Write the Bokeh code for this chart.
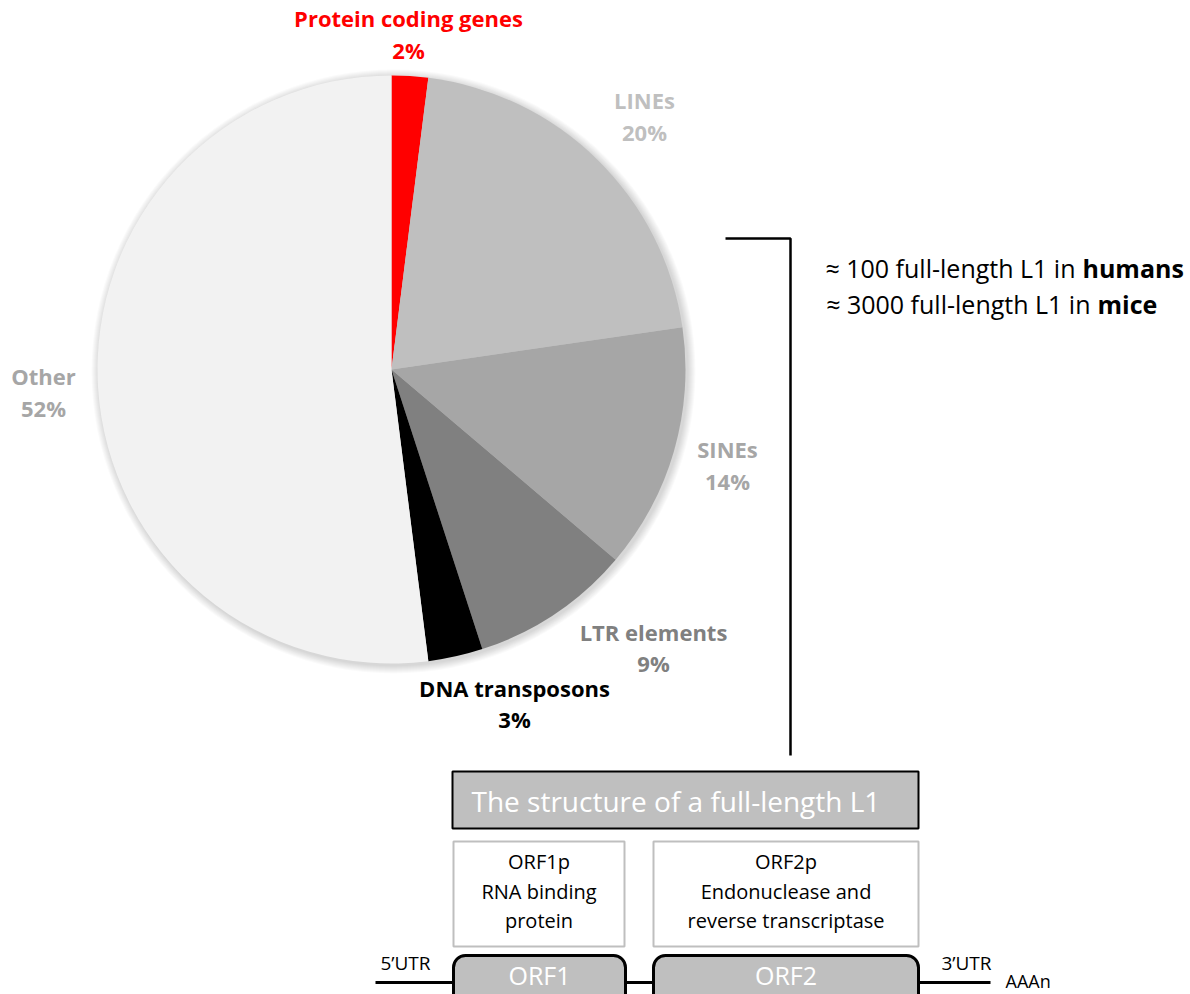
import numpy as np
from bokeh.plotting import figure
from bokeh.models import Range1d, ColumnDataSource
from bokeh.core.properties import value
from bokeh.embed import file_html
from bokeh.resources import INLINE

# ---------------- data ----------------
categories = ["Protein coding genes", "LINEs", "SINEs", "LTR elements", "DNA transposons", "Other"]
shares = [2.0, 20.7, 13.5, 8.8, 3.0, 52.0]
pct_labels = ["2%", "20%", "14%", "9%", "3%", "52%"]
slice_colors = ["#ff0000", "#bfbfbf", "#a6a6a6", "#808080", "#000000", "#f2f2f2"]
label_colors = ["#ff0000", "#bfbfbf", "#a6a6a6", "#808080", "#000000", "#a6a6a6"]

counts_lines = ["\u2248 100 full-length L1 in", "\u2248 3000 full-length L1 in"]
counts_bold = ["humans", "mice"]
structure_title = "The structure of a full-length L1"
orf_names = ["ORF1", "ORF2"]
orf_protein_text = [["ORF1p", "RNA binding", "protein"],
                    ["ORF2p", "Endonuclease and", "reverse transcriptase"]]

# ---------------- layout (page pixel coords -> data with y up) ----------------
W, H = 1190, 994
def Y(py):
    return H - py

FONT = value("Open Sans")

p = figure(width=W, height=H, x_range=Range1d(0, W), y_range=Range1d(0, H),
           output_backend="svg", toolbar_location=None, min_border=0)
p.axis.visible = False
p.grid.visible = False
p.outline_line_color = None
p.background_fill_color = "white"
p.border_fill_color = "white"

# pie with a soft shadow
cx, cy, r = 391, Y(369), 294
for i in range(8, 0, -1):
    p.circle(x=cx + 2, y=cy - 2, radius=r + i, fill_color="black", fill_alpha=0.02,
             line_color=None)

cum = np.concatenate([[0.0], np.cumsum(shares)]) / 100.0
src = ColumnDataSource(dict(
    start=np.pi / 2 - 2 * np.pi * cum[:-1],
    end=np.pi / 2 - 2 * np.pi * cum[1:],
    color=slice_colors,
    cat=categories,
))
p.wedge(x=cx, y=cy, radius=r, start_angle="start", end_angle="end", direction="clock",
        fill_color="color", line_color=None, source=src)

# slice labels (x centre, name line y, pct line y)
label_pos = [(408, 17, 49), (644, 99, 131), (727, 448, 480), (653, 631, 662),
             (514, 687, 718), (43, 375, 407)]
lx = [lp[0] for lp in label_pos]
p.text(x=lx, y=[Y(lp[1]) for lp in label_pos], text=categories, text_color=label_colors,
       text_font=FONT, text_font_style="bold", text_font_size="22px",
       text_align="center", text_baseline="alphabetic")
p.text(x=lx, y=[Y(lp[2]) for lp in label_pos], text=pct_labels, text_color=label_colors,
       text_font=FONT, text_font_style="bold", text_font_size="22px",
       text_align="center", text_baseline="alphabetic")

# bracket
p.line(x=[725, 790, 790], y=[Y(238), Y(238), Y(755)], line_color="black", line_width=2.5)

# counts text: regular part right-aligned against the bold word
split_x = [1082, 1097]
p.text(x=[s - 7 for s in split_x], y=[Y(267), Y(303)], text=counts_lines, text_color="black",
       text_font=FONT, text_font_size="25px", text_align="right", text_baseline="alphabetic")
p.text(x=split_x, y=[Y(267), Y(303)], text=counts_bold, text_color="black",
       text_font=FONT, text_font_style="bold", text_font_size="25px",
       text_align="left", text_baseline="alphabetic")

# structure title box
p.quad(left=[452], right=[918], top=[Y(771)], bottom=[Y(828)], fill_color="#bfbfbf",
       line_color="black", line_width=2)
p.text(x=[471], y=[Y(800)], text=[structure_title], text_color="white", text_font=FONT,
       text_font_size="28px", text_align="left", text_baseline="alphabetic")

# protein description boxes
box_l = [453, 653]
box_r = [624, 918]
p.quad(left=box_l, right=box_r, top=[Y(841)] * 2, bottom=[Y(946)] * 2, fill_color="white",
       line_color="#bfbfbf", line_width=2)
for i in range(2):
    xc = (box_l[i] + box_r[i]) / 2
    p.text(x=[xc] * 3, y=[Y(861), Y(891), Y(920)], text=orf_protein_text[i],
           text_color="black", text_font=FONT, text_font_size="20px",
           text_align="center", text_baseline="alphabetic")

# backbone line
p.multi_line(xs=[[375, 455], [623, 655], [916, 990]], ys=[[Y(982)] * 2] * 3,
             line_color="black", line_width=3)

# ORF boxes
orf_l = [453, 653]
orf_r = [625, 918]
p.quad(left=orf_l, right=orf_r, top=[Y(955)] * 2, bottom=[Y(1010)] * 2,
       fill_color="#bfbfbf", line_color="black", line_width=3, border_radius=12)
p.text(x=[(orf_l[i] + orf_r[i]) / 2 for i in range(2)], y=[Y(974)] * 2, text=orf_names,
       text_color="white", text_font=FONT, text_font_size="25px",
       text_align="center", text_baseline="alphabetic")

p.text(x=[405, 966], y=[Y(962), Y(962)], text=["5\u2019UTR", "3\u2019UTR"], text_color="black",
       text_font=FONT, text_font_size="19px", text_align="center", text_baseline="alphabetic")
p.text(x=[1005], y=[Y(980)], text=["AAAn"], text_color="black", text_font=FONT,
       text_font_size="18px", text_align="left", text_baseline="alphabetic")

open("out.html", "w").write(file_html(p, INLINE))
